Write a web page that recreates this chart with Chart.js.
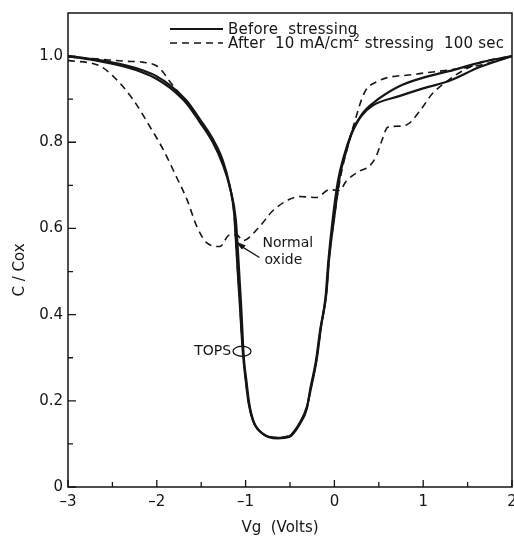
<!DOCTYPE html>
<html>
<head>
<meta charset="utf-8">
<script src="https://cdn.jsdelivr.net/npm/chart.js@4.4.1/dist/chart.umd.min.js"></script>
<style>
  html, body { margin: 0; padding: 0; background: #fff; }
  #wrap { width: 514px; height: 541px; }
</style>
</head>
<body>
<div id="wrap"><canvas id="cv"></canvas></div>
<script>
// gate voltage (V) and normalised capacitance C/Cox
const vTopsBefore = [-3.0, -2.72, -2.34, -2.16, -2.0, -1.85, -1.66, -1.52, -1.37, -1.26, -1.18, -1.13, -1.11, -1.09, -1.07, -1.03, -1.0, -0.97, -0.92, -0.82, -0.64, -0.51, -0.39, -0.31, -0.26, -0.20, -0.15, -0.09, -0.06, 0.0, 0.06, 0.13, 0.20, 0.31, 0.43, 0.73, 1.0, 1.29, 1.66, 2.0];
const cTopsBefore = [1.0, 0.993, 0.978, 0.967, 0.953, 0.932, 0.895, 0.855, 0.808, 0.76, 0.70, 0.637, 0.574, 0.505, 0.44, 0.31, 0.25, 0.20, 0.156, 0.126, 0.114, 0.118, 0.149, 0.186, 0.233, 0.295, 0.372, 0.45, 0.528, 0.628, 0.72, 0.777, 0.825, 0.865, 0.89, 0.93, 0.95, 0.965, 0.986, 1.0];

const vNormalBefore = [-3.0, -2.72, -2.34, -2.16, -2.0, -1.85, -1.66, -1.52, -1.37, -1.26, -1.17, -1.11, -1.09, -1.07, -1.05, -1.02, -0.99, -0.96, -0.91, -0.81, -0.64, -0.51, -0.39, -0.31, -0.27, -0.21, -0.16, -0.10, -0.07, -0.02, 0.04, 0.11, 0.19, 0.30, 0.43, 0.73, 1.0, 1.29, 1.63, 2.0];
const cNormalBefore = [1.0, 0.991, 0.974, 0.962, 0.947, 0.926, 0.889, 0.848, 0.80, 0.75, 0.69, 0.62, 0.56, 0.49, 0.42, 0.30, 0.245, 0.195, 0.152, 0.124, 0.113, 0.116, 0.146, 0.182, 0.23, 0.29, 0.365, 0.44, 0.52, 0.62, 0.71, 0.77, 0.818, 0.86, 0.885, 0.907, 0.925, 0.942, 0.974, 1.0];

const vTopsAfter = [-3.0, -2.66, -2.34, -2.16, -2.0, -1.93, -1.85, -1.75, -1.66, -1.52, -1.37, -1.26, -1.18, -1.13, -1.11, -1.09, -1.07, -1.03, -1.0, -0.97, -0.92, -0.82, -0.64, -0.51, -0.39, -0.31, -0.26, -0.20, -0.15, -0.09, -0.06, 0.0, 0.07, 0.15, 0.22, 0.34, 0.47, 0.92, 1.3, 1.66, 2.0];
const cTopsAfter = [0.998, 0.993, 0.988, 0.986, 0.977, 0.963, 0.94, 0.915, 0.895, 0.853, 0.805, 0.757, 0.697, 0.635, 0.572, 0.503, 0.44, 0.31, 0.25, 0.20, 0.156, 0.126, 0.115, 0.119, 0.149, 0.186, 0.233, 0.295, 0.372, 0.45, 0.528, 0.628, 0.72, 0.79, 0.842, 0.916, 0.94, 0.958, 0.968, 0.98, 1.0];

const vNormalAfter = [-3.0, -2.64, -2.49, -2.27, -2.08, -1.93, -1.78, -1.66, -1.55, -1.44, -1.29, -1.18, -1.10, -1.03, -0.84, -0.70, -0.51, -0.39, -0.20, -0.06, 0.06, 0.13, 0.28, 0.39, 0.47, 0.54, 0.60, 0.68, 0.81, 0.96, 1.10, 1.29, 1.48, 1.66, 2.0];
const cNormalAfter = [0.99, 0.977, 0.953, 0.90, 0.837, 0.784, 0.72, 0.667, 0.605, 0.567, 0.558, 0.585, 0.585, 0.572, 0.605, 0.64, 0.667, 0.674, 0.672, 0.69, 0.688, 0.709, 0.733, 0.744, 0.767, 0.807, 0.835, 0.837, 0.84, 0.872, 0.912, 0.945, 0.97, 0.986, 1.0];

const xMajor = [-3, -2, -1, 0, 1, 2];
const xMinor = [-2.5, -1.5, -0.5, 0.5, 1.5];
const yMajor = [0, 0.2, 0.4, 0.6, 0.8, 1.0];
const yMinor = [0.1, 0.3, 0.5, 0.7, 0.9];

const INK = '#151515';
const FONT = '"DejaVu Sans", sans-serif';

function pts(xs, ys) {
    return xs.map((x, i) => ({ x: x, y: ys[i] }));
}

function fmtX(v) {
    if (v === 0) return '0';
    return v < 0 ? '\u2013' + Math.abs(v) : String(v);
}

const solid = { borderColor: INK, borderWidth: 2.2, pointRadius: 0, cubicInterpolationMode: 'monotone', fill: false };
const dashed = { borderColor: INK, borderWidth: 1.6, borderDash: [7, 5], pointRadius: 0, cubicInterpolationMode: 'monotone', fill: false };

// inward ticks, frame, legend and the labels drawn on the plot
const decor = {
    id: 'decor',
    afterDraw(chart) {
        const { ctx, chartArea: a, scales: { x, y } } = chart;
        ctx.save();
        ctx.strokeStyle = INK;
        ctx.fillStyle = INK;

        // frame
        ctx.lineWidth = 1.5;
        ctx.strokeRect(a.left, a.top, a.right - a.left, a.bottom - a.top);

        ctx.lineWidth = 1.3;
        ctx.beginPath();
        xMajor.forEach(v => { const p = x.getPixelForValue(v); ctx.moveTo(p, a.bottom); ctx.lineTo(p, a.bottom - 7); });
        xMinor.forEach(v => { const p = x.getPixelForValue(v); ctx.moveTo(p, a.bottom); ctx.lineTo(p, a.bottom - 5); });
        yMajor.forEach(v => { const p = y.getPixelForValue(v); ctx.moveTo(a.left, p); ctx.lineTo(a.left + 8, p); });
        yMinor.forEach(v => { const p = y.getPixelForValue(v); ctx.moveTo(a.left, p); ctx.lineTo(a.left + 5, p); });
        ctx.stroke();

        // legend
        ctx.font = '15px ' + FONT;
        ctx.letterSpacing = '0.2px';
        ctx.textBaseline = 'middle';
        ctx.textAlign = 'left';
        ctx.lineWidth = 2.2;
        ctx.beginPath(); ctx.moveTo(170, 29); ctx.lineTo(223, 29); ctx.stroke();
        ctx.fillText('Before  stressing', 228, 30);
        ctx.lineWidth = 1.6;
        ctx.setLineDash([7, 5]);
        ctx.beginPath(); ctx.moveTo(170, 43); ctx.lineTo(223, 43); ctx.stroke();
        ctx.setLineDash([]);
        let tx = 228;
        const part1 = 'After  10 mA/cm';
        ctx.fillText(part1, tx, 44);
        tx += ctx.measureText(part1).width;
        ctx.font = '10px ' + FONT;
        ctx.fillText('2', tx, 38);
        tx += ctx.measureText('2').width;
        ctx.font = '15px ' + FONT;
        ctx.fillText(' stressing  100 sec', tx, 44);
        ctx.letterSpacing = '0px';

        // annotations
        ctx.font = '14px ' + FONT;
        const nx = x.getPixelForValue(-0.81);
        const ny = y.getPixelForValue(0.565);
        ctx.fillText('Normal', nx, ny);
        ctx.fillText('oxide', nx + 2, ny + 17);
        const ax = x.getPixelForValue(-1.11), ay = y.getPixelForValue(0.57);
        ctx.lineWidth = 1.3;
        ctx.beginPath(); ctx.moveTo(nx - 3, ny + 14); ctx.lineTo(ax + 4, ay + 4); ctx.stroke();
        ctx.beginPath();
        ctx.moveTo(ax, ay);
        ctx.lineTo(ax + 10, ay + 4);
        ctx.lineTo(ax + 6, ay + 8);
        ctx.closePath();
        ctx.fill();

        const ex = x.getPixelForValue(-1.04), ey = y.getPixelForValue(0.315);
        ctx.lineWidth = 1.3;
        ctx.beginPath(); ctx.ellipse(ex, ey, 9, 5, 0, 0, Math.PI * 2); ctx.stroke();
        ctx.textAlign = 'right';
        ctx.fillText('TOPS', ex - 11, ey);

        // axis titles
        ctx.font = '15px ' + FONT;
        ctx.textAlign = 'center';
        ctx.fillText('Vg  (Volts)', 280, 528);
        ctx.translate(20, 270);
        ctx.rotate(-Math.PI / 2);
        ctx.fillText('C / Cox', 0, 0);
        ctx.restore();
    }
};

new Chart(document.getElementById('cv'), {
    type: 'line',
    data: {
        datasets: [
            Object.assign({ label: 'TOPS before', data: pts(vTopsBefore, cTopsBefore) }, solid),
            Object.assign({ label: 'Normal oxide before', data: pts(vNormalBefore, cNormalBefore) }, solid),
            Object.assign({ label: 'TOPS after', data: pts(vTopsAfter, cTopsAfter) }, dashed),
            Object.assign({ label: 'Normal oxide after', data: pts(vNormalAfter, cNormalAfter) }, dashed)
        ]
    },
    options: {
        responsive: true,
        maintainAspectRatio: false,
        animation: false,
        layout: { padding: { top: 13, right: 2, left: 0, bottom: 0 } },
        plugins: {
            legend: { display: false },
            tooltip: { enabled: false }
        },
        scales: {
            x: {
                type: 'linear',
                min: -3,
                max: 2,
                afterFit: s => { s.height = 54; s.paddingLeft = 0; s.paddingRight = 0; },
                afterBuildTicks: s => { s.ticks = xMajor.map(v => ({ value: v })); },
                grid: { display: false, drawTicks: false },
                border: { display: false },
                ticks: {
                    color: INK,
                    font: { family: FONT, size: 15 },
                    padding: 6,
                    maxRotation: 0,
                    callback: v => fmtX(v)
                }
            },
            y: {
                type: 'linear',
                min: 0,
                max: 1.1,
                afterFit: s => { s.width = 68; s.paddingTop = 0; s.paddingBottom = 0; },
                afterBuildTicks: s => { s.ticks = yMajor.map(v => ({ value: v })); },
                grid: { display: false, drawTicks: false },
                border: { display: false },
                ticks: {
                    color: INK,
                    font: { family: FONT, size: 15 },
                    padding: 5,
                    callback: v => (v === 0 ? '0' : v.toFixed(1))
                }
            }
        }
    },
    plugins: [decor]
});
</script>
</body>
</html>
